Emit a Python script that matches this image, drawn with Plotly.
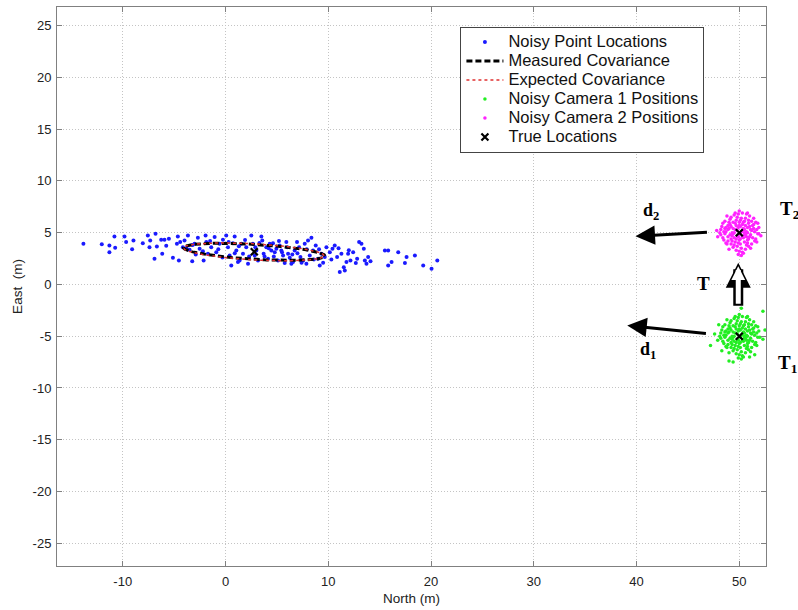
import numpy as np
import plotly.graph_objects as go

# ---------------- data ----------------
point_locations = [
    (-13.83, 3.93), (-12.04, 3.89), (-11.30, 3.76), (-11.30, 3.12), (-10.81, 4.63), (-10.74, 3.54),
    (-9.83, 4.63), (-9.67, 4.09), (-9.09, 3.41), (-8.96, 4.25), (-8.05, 3.99), (-7.56, 4.73),
    (-7.40, 3.60), (-7.33, 4.25), (-6.81, 4.89), (-6.91, 2.48), (-6.68, 3.67), (-6.26, 4.31),
    (-6.16, 2.96), (-5.94, 4.31), (-5.77, 3.73), (-5.51, 4.41), (-5.12, 2.57), (-4.73, 3.93),
    (-4.64, 4.63), (-4.54, 2.32), (-4.41, 4.09), (-4.15, 3.60), (-3.99, 4.25), (-3.66, 4.73),
    (-3.50, 3.35), (-3.24, 2.25), (-3.01, 3.93), (-2.69, 4.51), (-2.52, 3.44), (-2.13, 2.32),
    (-1.94, 4.73), (-1.87, 4.09), (-1.71, 2.96), (-1.39, 3.60), (-1.06, 4.57), (-0.90, 3.12),
    (-0.58, 3.93), (-0.25, 4.31), (0.07, 4.73), (0.24, 3.60), (0.40, 2.80), (0.56, 1.83),
    (0.72, 3.99), (0.89, 4.63), (1.05, 3.28), (1.21, 2.16), (1.37, 2.32), (1.54, 3.93),
    (1.70, 2.96), (2.02, 3.60), (2.19, 1.99), (2.51, 4.73), (2.67, 3.93), (2.84, 2.80),
    (3.00, 3.28), (3.16, 2.32), (3.49, 4.63), (3.58, 4.25), (3.71, 2.96), (3.97, 3.60),
    (4.14, 2.48), (4.30, 3.93), (4.46, 3.28), (4.62, 3.99), (4.79, 3.12), (4.95, 3.44),
    (5.11, 2.32), (5.27, 3.76), (5.43, 3.28), (5.60, 2.80), (5.76, 2.06), (5.92, 4.09),
    (6.09, 2.96), (6.25, 2.57), (6.41, 1.99), (6.57, 2.16), (6.73, 3.28), (6.96, 4.09),
    (7.16, 3.60), (7.29, 2.64), (7.55, 2.32), (7.71, 3.93), (7.87, 1.99), (8.03, 4.25),
    (8.20, 2.80), (8.36, 4.51), (8.52, 3.28), (8.78, 3.76), (9.01, 2.48), (9.17, 1.83),
    (9.33, 2.96), (9.66, 2.64), (9.82, 3.60), (10.15, 3.12), (10.41, 3.44), (10.63, 3.76),
    (10.86, 2.64), (11.12, 1.19), (11.28, 2.96), (11.51, 1.67), (11.61, 1.35), (11.77, 2.16),
    (11.93, 2.96), (12.16, 2.32), (12.42, 3.12), (12.68, 2.06), (12.81, 2.48), (13.00, 4.09),
    (13.23, 3.93), (13.46, 3.44), (13.56, 2.32), (13.72, 1.99), (13.88, 2.64), (14.11, 2.25),
    (15.51, 3.28), (15.83, 3.28), (15.83, 1.83), (16.16, 2.16), (16.81, 3.12), (17.46, 2.06),
    (17.62, 2.64), (18.43, 2.80), (19.24, 1.83), (20.05, 1.51), (20.61, 2.32),
    (-3.8, 3.5), (-3.2, 3.8), (-2.9, 2.9), (-2.2, 3.2), (-1.5, 4.2), (-0.7, 3.4), (-0.3, 2.6),
    (0.3, 4.1), (0.9, 3.0), (1.3, 3.7), (1.9, 4.3), (2.3, 2.7), (2.9, 3.6), (3.3, 4.0),
    (3.8, 2.7), (4.2, 3.5), (4.7, 2.7), (5.2, 4.2), (5.5, 3.1), (6.0, 3.6), (6.5, 2.9),
    (7.0, 3.0), (7.4, 2.1), (7.9, 3.4), (8.6, 2.4), (9.1, 3.4), (9.5, 2.1), (10.3, 2.4),
    (11.0, 3.5), (12.0, 3.3),
]

camera2_positions = [
    (49.2, 5.6), (50.8, 4.3), (50.1, 6.2), (48.7, 5.1), (51.4, 5.8), (49.9, 4.0), (50.5, 5.3), (49.4, 3.6), (51.0, 6.6), (48.9, 4.6),
    (50.3, 3.1), (49.6, 6.9), (51.8, 4.9), (50.0, 5.7), (48.4, 5.9), (49.8, 4.7), (50.7, 3.8), (51.2, 5.2), (49.1, 6.3), (50.4, 4.5),
    (48.8, 3.9), (50.9, 5.9), (49.5, 5.0), (51.5, 4.2), (50.2, 2.8), (49.0, 5.4), (50.6, 6.4), (48.2, 4.8), (51.9, 5.5), (49.7, 3.3),
    (50.1, 4.9), (49.3, 4.2), (50.8, 5.0), (51.1, 3.5), (48.6, 6.1), (50.0, 7.1), (49.9, 5.5), (51.6, 6.0), (48.9, 5.3), (50.3, 5.8),
    (49.4, 4.9), (50.5, 4.1), (47.8, 5.2), (52.1, 4.7), (49.6, 5.9), (50.7, 6.8), (49.2, 4.4), (51.3, 4.5), (48.5, 4.3), (50.2, 5.1),
    (49.8, 6.5), (50.9, 3.7), (49.0, 3.4), (51.7, 5.3), (50.4, 6.0), (48.3, 5.6), (49.7, 4.4), (50.6, 4.8), (51.0, 5.6), (49.5, 6.7),
    (50.1, 3.9), (48.7, 4.0), (51.4, 6.4), (49.9, 2.9), (50.3, 4.6), (49.1, 5.8), (50.8, 5.5), (48.1, 5.0), (51.2, 3.9), (50.0, 4.3),
    (49.6, 5.3), (50.5, 6.1), (48.8, 6.6), (51.8, 5.9), (49.3, 5.0), (50.2, 3.5), (49.8, 5.2), (50.7, 4.6), (47.9, 4.6), (51.5, 5.1),
    (49.4, 6.0), (50.4, 5.4), (48.6, 5.4), (51.1, 4.8), (50.0, 6.0), (49.2, 3.9), (50.9, 6.2), (49.7, 5.7), (51.3, 5.7), (48.4, 4.5),
    (50.6, 3.4), (49.0, 6.0), (50.1, 5.6), (51.6, 4.4), (49.5, 4.5), (48.9, 5.7), (50.3, 6.9), (49.8, 3.7), (51.9, 4.9), (50.5, 4.8),
    (49.1, 4.8), (48.5, 5.1), (50.8, 4.0), (51.0, 4.6), (49.6, 4.1), (50.2, 6.4), (48.2, 5.3), (51.4, 5.4), (49.9, 4.6), (50.7, 5.1),
    (49.4, 5.4), (50.0, 3.2), (50.6, 5.7), (49.2, 6.5), (51.2, 6.1), (48.9, 4.2), (50.4, 3.0), (49.7, 6.2), (50.9, 4.4), (49.3, 4.7),
    (51.1, 5.3), (50.1, 4.4), (48.7, 5.5), (50.3, 5.2), (49.5, 3.8), (51.7, 4.1), (49.9, 6.8), (50.8, 6.9), (48.6, 4.9), (50.5, 5.0),
]

camera1_positions = [
    (49.2, -4.4), (50.8, -5.7), (50.1, -3.8), (48.7, -4.9), (51.4, -4.2), (49.9, -6.0), (50.5, -4.7), (49.4, -6.4), (51.0, -3.4), (48.9, -5.4),
    (50.3, -6.9), (49.6, -3.1), (51.8, -5.1), (50.0, -4.3), (48.4, -4.1), (49.8, -5.3), (50.7, -6.2), (51.2, -4.8), (49.1, -3.7), (50.4, -5.5),
    (48.8, -6.1), (50.9, -4.1), (49.5, -5.0), (51.5, -5.8), (50.2, -7.2), (49.0, -4.6), (50.6, -3.6), (48.2, -5.2), (51.9, -4.5), (49.7, -6.7),
    (50.1, -5.1), (49.3, -5.8), (50.8, -5.0), (51.1, -6.5), (48.6, -3.9), (50.0, -2.9), (49.9, -4.5), (51.6, -4.0), (48.9, -4.7), (50.3, -4.2),
    (49.4, -5.1), (50.5, -5.9), (47.6, -4.8), (52.3, -5.3), (49.6, -4.1), (50.7, -3.2), (49.2, -5.6), (51.3, -5.5), (48.5, -5.7), (50.2, -4.9),
    (49.8, -3.5), (50.9, -6.3), (49.0, -6.6), (51.7, -4.7), (50.4, -4.0), (48.3, -4.4), (49.7, -5.6), (50.6, -5.2), (51.0, -4.4), (49.5, -3.3),
    (50.1, -6.1), (48.7, -6.0), (51.4, -3.6), (49.9, -7.1), (50.3, -5.4), (49.1, -4.2), (50.8, -4.5), (48.1, -5.0), (51.2, -6.1), (50.0, -5.7),
    (49.6, -4.7), (50.5, -3.9), (48.8, -3.4), (51.8, -4.1), (49.3, -5.0), (50.2, -6.5), (49.8, -4.8), (50.7, -5.4), (47.9, -5.4), (51.5, -4.9),
    (49.4, -4.0), (50.4, -4.6), (48.6, -4.6), (51.1, -5.2), (50.0, -4.0), (49.2, -6.1), (50.9, -3.8), (49.7, -4.3), (51.3, -4.3), (48.4, -5.5),
    (50.6, -6.6), (49.0, -4.0), (50.1, -4.4), (51.6, -5.6), (49.5, -5.5), (48.9, -4.3), (50.3, -3.1), (49.8, -6.3), (52.0, -5.1), (50.5, -5.2),
    (49.1, -5.2), (48.5, -4.9), (50.8, -6.0), (51.0, -5.4), (49.6, -5.9), (50.2, -3.6), (48.2, -4.7), (51.4, -4.6), (49.9, -5.4), (50.7, -4.9),
    (49.4, -4.6), (50.0, -6.8), (50.6, -4.3), (49.2, -3.5), (51.2, -3.9), (48.9, -5.8), (50.4, -7.0), (49.7, -3.8), (50.9, -5.6), (49.3, -5.3),
    (51.1, -4.7), (50.1, -5.6), (48.7, -4.5), (50.3, -4.8), (49.5, -6.2), (51.7, -5.9), (49.9, -3.2), (50.8, -3.1), (48.6, -5.1), (50.5, -5.0),
    (47.2, -5.9), (52.5, -4.4), (49.0, -7.4), (51.0, -7.0), (48.0, -3.9), (52.3, -2.6), (50.2, -2.3), (49.4, -7.5), (51.5, -6.8), (48.3, -6.4),
]

true_locations_x = [2.8, 50.0, 50.0]
true_locations_y = [3.15, 5.0, -5.0]

# covariance ellipses: center x, center y, semi-major, semi-minor, angle (deg)
measured_cov = [2.8, 3.15, 6.9, 0.72, -3.4]
expected_cov = [2.75, 3.15, 6.85, 0.78, -3.2]

x_ticks = [-10, 0, 10, 20, 30, 40, 50]
x_tick_labels = ["-10", "0", "10", "20", "30", "40", "50"]
y_ticks = [-25, -20, -15, -10, -5, 0, 5, 10, 15, 20, 25]
y_tick_labels = ["-25", "-20", "-15", "-10", "-5", "0", "5", "10", "15", "20", "25"]

legend_names = ["Noisy Point Locations", "Measured Covariance", "Expected Covariance",
                "Noisy Camera 1 Positions", "Noisy Camera 2 Positions", "True Locations"]


def ellipse(params, n=200):
    cx, cy, a, b, ang = params
    t = np.linspace(0, 2 * np.pi, n)
    th = np.deg2rad(ang)
    ex = cx + a * np.cos(t) * np.cos(th) - b * np.sin(t) * np.sin(th)
    ey = cy + a * np.cos(t) * np.sin(th) + b * np.sin(t) * np.cos(th)
    return ex, ey


def lname(s):
    return '<span style="font-size:16.5px">' + s + "</span>"


FONT = "Liberation Sans, Arial, sans-serif"
SERIF = "Liberation Serif, Times New Roman, serif"

fig = go.Figure()

px_, py_ = zip(*point_locations)
fig.add_trace(go.Scatter(x=px_, y=py_, mode="markers", name=lname(legend_names[0]),
                         marker=dict(color="#1a1aff", size=4, line=dict(width=0))))

mx, my = ellipse(measured_cov)
fig.add_trace(go.Scatter(x=mx, y=my, mode="lines", name=lname(legend_names[1]),
                         line=dict(color="black", width=3, dash="6px,3px")))
ex_, ey_ = ellipse(expected_cov)
fig.add_trace(go.Scatter(x=ex_, y=ey_, mode="lines", name=lname(legend_names[2]),
                         line=dict(color="#e03030", width=1.5, dash="dot")))

c1x, c1y = zip(*camera1_positions)
fig.add_trace(go.Scatter(x=c1x, y=c1y, mode="markers", name=lname(legend_names[3]),
                         marker=dict(color="#22ee22", size=3.5, line=dict(width=0))))
c2x, c2y = zip(*camera2_positions)
fig.add_trace(go.Scatter(x=c2x, y=c2y, mode="markers", name=lname(legend_names[4]),
                         marker=dict(color="#ff22ff", size=3.5, line=dict(width=0))))

fig.add_trace(go.Scatter(x=true_locations_x, y=true_locations_y, mode="markers", name=lname(legend_names[5]),
                         marker=dict(color="black", size=7, symbol="x-thin", line=dict(width=2.2, color="black"))))

annotations = []
# d2 and d1 arrows
for (hx, hy, tx, ty) in [(39.9, 4.66, 47.0, 5.05), (39.1, -3.96, 46.9, -4.76)]:
    annotations.append(dict(x=hx, y=hy, ax=tx, ay=ty, xref="x", yref="y", axref="x", ayref="y",
                            showarrow=True, arrowhead=2, arrowsize=1.3, arrowwidth=3, arrowcolor="black", text=""))
# hollow T arrow (outline + white fill)
annotations.append(dict(x=49.9, y=2.1, ax=49.9, ay=-2.2, xref="x", yref="y", axref="x", ayref="y",
                        showarrow=True, arrowhead=2, arrowsize=0.5, arrowwidth=10, arrowcolor="black", text=""))
annotations.append(dict(x=49.9, y=1.75, ax=49.9, ay=-2.0, xref="x", yref="y", axref="x", ayref="y",
                        showarrow=True, arrowhead=2, arrowsize=0.55, arrowwidth=5, arrowcolor="white", text=""))

labels = [
    ("<b>d<sub>2</sub></b>", 40.4, 7.05, 18),
    ("<b>d<sub>1</sub></b>", 40.1, -6.4, 18),
    ("<b>T</b>", 45.7, 0.05, 19),
]
for txt, lx, ly, fs in labels:
    annotations.append(dict(x=lx, y=ly, xref="x", yref="y", text=txt, showarrow=False,
                            xanchor="left", yanchor="middle",
                            font=dict(family=SERIF, size=fs, color="black")))
# labels that sit just outside the axes (paper coordinates)
outside_labels = [
    ("<b>T<sub>2</sub></b>", 1.0175, 0.637),
    ("<b>T<sub>1</sub></b>", 1.0145, 0.362),
]
for txt, lx, ly in outside_labels:
    annotations.append(dict(x=lx, y=ly, xref="paper", yref="paper", text=txt, showarrow=False,
                            xanchor="left", yanchor="middle",
                            font=dict(family=SERIF, size=19, color="black")))

axis_common = dict(showgrid=True, gridcolor="#c4c4c4", griddash="1px,2px", gridwidth=1,
                   showline=True, linecolor="#808080", linewidth=1, mirror="ticks",
                   ticks="inside", ticklen=5, tickcolor="#808080", zeroline=False,
                   tickfont=dict(family=FONT, size=13, color="#222"))

fig.update_layout(
    width=798, height=610,
    margin=dict(l=57, r=32, t=7, b=44),
    paper_bgcolor="white", plot_bgcolor="white",
    font=dict(family=FONT, size=13, color="#222"),
    xaxis=dict(range=[-16.4, 52.6], tickvals=x_ticks, ticktext=x_tick_labels, ticklabelstandoff=3,
               title=dict(text="North (m)", standoff=5, font=dict(size=13.5)), **axis_common),
    yaxis=dict(range=[-27.2, 26.8], tickvals=y_ticks, ticktext=y_tick_labels, ticklabelstandoff=2,
               title=dict(text="East\u00a0\u00a0(m)", standoff=6, font=dict(size=13.5)), **axis_common),
    legend=dict(x=0.569, y=0.965, xanchor="left", yanchor="top", bgcolor="white",
                bordercolor="#444", borderwidth=1, font=dict(family=FONT, size=12, color="#111"),
                tracegroupgap=0, itemsizing="trace", itemwidth=37),
    annotations=annotations,
    showlegend=True,
)

fig.write_html("out.html")
